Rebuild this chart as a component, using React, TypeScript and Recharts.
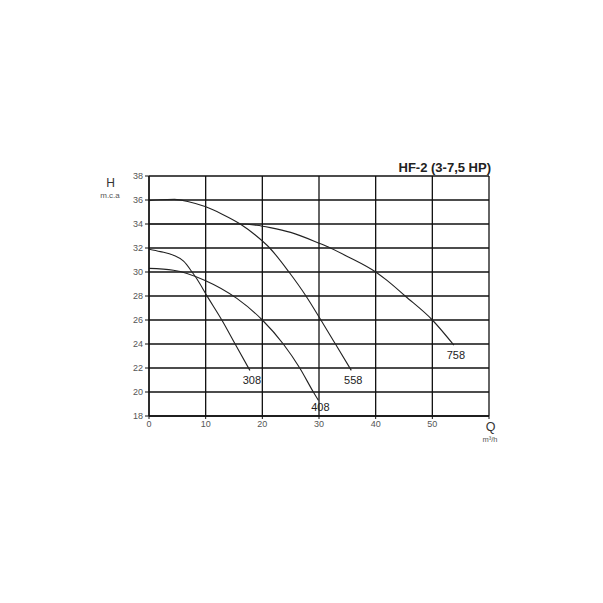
import React from "react";
import { LineChart, Line, XAxis, YAxis, CartesianGrid } from "recharts";

const xTicks = [0, 10, 20, 30, 40, 50, 60];
const yTicks = [18, 20, 22, 24, 26, 28, 30, 32, 34, 36, 38];

const q308 = [0, 2, 4.3, 6.1, 7.6, 8.2, 10.5, 12.85, 15.2, 17.8];
const h308 = [31.9, 31.7, 31.4, 30.9, 30.0, 29.6, 27.8, 26.0, 24.0, 21.8];

const q408 = [0, 4.3, 9.9, 15.5, 20, 23.7, 26.6, 29.0, 29.9];
const h408 = [30.3, 30.15, 29.3, 27.8, 26.0, 24.0, 22.0, 20.0, 19.3];

const q558 = [0, 2, 4.5, 7, 9.9, 13, 16.1, 18.7, 21.3, 24.7, 27.7, 30.2, 32.9, 35.7];
const h558 = [35.95, 36.02, 36.05, 35.85, 35.45, 34.8, 34.0, 33.1, 32.0, 30.0, 28.0, 26.1, 24.0, 21.8];

const q758 = [0, 10, 16, 19, 21.4, 25, 30, 32, 35, 40, 42, 45.2, 50, 53.8];
const h758 = [34, 34, 34, 33.9, 33.7, 33.3, 32.4, 32.0, 31.3, 30.0, 29.3, 28.0, 26.0, 23.9];

const seriesNames = ["308", "408", "558", "758"];
const labelDy = [9.5, 7, 10, 10];

const build = (q: number[], h: number[]) => q.map((v, i) => ({ q: v, h: h[i] }));
const series = [build(q308, h308), build(q408, h408), build(q558, h558), build(q758, h758)];

const FONT = "'Liberation Sans', Arial, sans-serif";

const makeLabel = (name: string, len: number, dy: number) => (props: any) => {
  const { x, y, index } = props;
  if (index !== len - 1) return null;
  return (
    <text
      x={x + 2}
      y={y + dy}
      textAnchor="middle"
      dominantBaseline="central"
      fontSize={11}
      fontFamily={FONT}
      fill="#222"
    >
      {name}
    </text>
  );
};

export default function App() {
  const W = 560;
  const H = 560;
  return (
    <div style={{ position: "relative", width: W, height: H }}>
      <LineChart
        width={W}
        height={H}
        margin={{ top: 168, right: 79, bottom: 122, left: 101 }}
      >
        <CartesianGrid stroke="#111" strokeWidth={1.3} />
        <XAxis
          type="number"
          dataKey="q"
          domain={[0, 60]}
          ticks={xTicks}
          interval={0}
          height={30}
          tickSize={3}
          tickMargin={2}
          tickFormatter={(v: number) => (v === 60 ? "" : String(v))}
          axisLine={{ stroke: "#111", strokeWidth: 1.3 }}
          tickLine={{ stroke: "#111" }}
          tick={{ fontSize: 9, fill: "#555", fontFamily: FONT }}
          allowDataOverflow
        />
        <YAxis
          type="number"
          dataKey="h"
          domain={[18, 38]}
          ticks={yTicks}
          interval={0}
          width={40}
          tickSize={4}
          tickMargin={2}
          axisLine={{ stroke: "#111", strokeWidth: 1.3 }}
          tickLine={{ stroke: "#111" }}
          tick={{ fontSize: 9, fill: "#555", fontFamily: FONT }}
          allowDataOverflow
        />
        {series.map((d, i) => (
          <Line
            key={seriesNames[i]}
            data={d}
            dataKey="h"
            type="monotone"
            stroke="#222"
            strokeWidth={1.1}
            dot={false}
            isAnimationActive={false}
            label={makeLabel(seriesNames[i], d.length, labelDy[i])}
          />
        ))}
      </LineChart>
      <svg
        width={W}
        height={H}
        style={{ position: "absolute", left: 0, top: 0, pointerEvents: "none" }}
      >
        <text x={483} y={163.7} textAnchor="end" fontSize={13} fontWeight="bold" fontFamily={FONT} fill="#222">
          HF-2 (3-7,5 HP)
        </text>
        <text x={102.7} y={178.7} textAnchor="middle" fontSize={12} fontFamily={FONT} fill="#333">
          H
        </text>
        <text x={102} y={190} textAnchor="middle" fontSize={8} fontFamily={FONT} fill="#555">
          m.c.a
        </text>
        <text x={482.5} y={422.7} textAnchor="middle" fontSize={12.5} fontFamily={FONT} fill="#333">
          Q
        </text>
        <text x={482} y={434} textAnchor="middle" fontSize={7.5} fontFamily={FONT} fill="#555">
          m³/h
        </text>
      </svg>
    </div>
  );
}
